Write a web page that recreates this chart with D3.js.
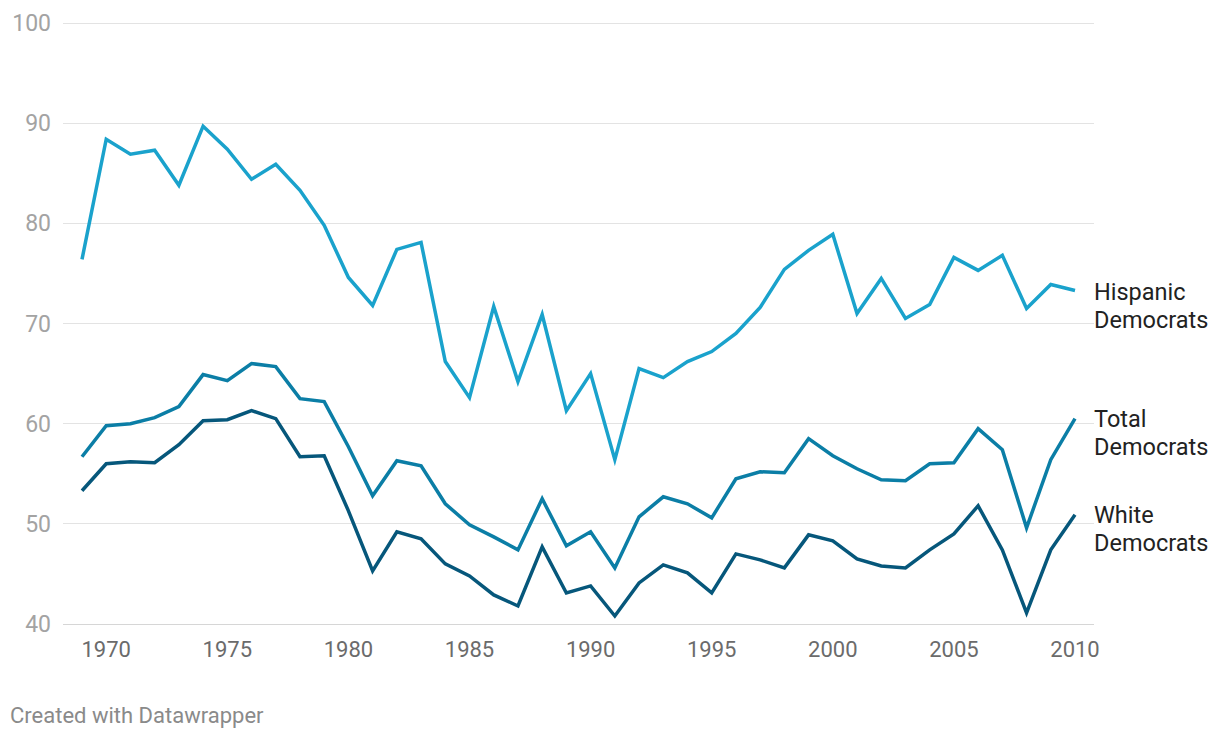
<!DOCTYPE html>
<html>
<head>
<meta charset="utf-8">
<script src="https://cdn.jsdelivr.net/npm/d3@7"></script>
<style>
  html, body { margin: 0; padding: 0; background: #fff; }
  svg { display: block; font-family: Roboto, "Noto Sans", sans-serif; }
</style>
</head>
<body>
<svg id="chart" width="1220" height="740"></svg>
<script>
const years = d3.range(1969, 2011);
const hispanic = [76.4, 88.4, 86.9, 87.3, 83.8, 89.7, 87.4, 84.4, 85.9, 83.3, 79.8,
  74.6, 71.8, 77.4, 78.1, 66.2, 62.6, 71.7, 64.2, 70.9, 61.3, 65.0, 56.4, 65.5, 64.6,
  66.2, 67.2, 69.0, 71.6, 75.4, 77.3, 78.9, 71.0, 74.5, 70.5, 71.9, 76.6, 75.3, 76.8,
  71.5, 73.9, 73.3];
const total = [56.7, 59.8, 60.0, 60.6, 61.7, 64.9, 64.3, 66.0, 65.7, 62.5, 62.2,
  57.7, 52.8, 56.3, 55.8, 52.0, 49.9, 48.7, 47.4, 52.5, 47.8, 49.2, 45.6, 50.7, 52.7,
  52.0, 50.6, 54.5, 55.2, 55.1, 58.5, 56.8, 55.5, 54.4, 54.3, 56.0, 56.1, 59.5, 57.4,
  49.6, 56.4, 60.5];
const white = [53.3, 56.0, 56.2, 56.1, 57.9, 60.3, 60.4, 61.3, 60.5, 56.7, 56.8,
  51.3, 45.3, 49.2, 48.5, 46.0, 44.8, 42.9, 41.8, 47.7, 43.1, 43.8, 40.8, 44.1, 45.9,
  45.1, 43.1, 47.0, 46.4, 45.6, 48.9, 48.3, 46.5, 45.8, 45.6, 47.4, 49.0, 51.8, 47.4,
  41.1, 47.4, 50.9];
const yTicks = [40, 50, 60, 70, 80, 90, 100];
const xTicks = [1970, 1975, 1980, 1985, 1990, 1995, 2000, 2005, 2010];
const seriesNames = [["Hispanic", "Democrats"], ["Total", "Democrats"], ["White", "Democrats"]];
const seriesValues = [hispanic, total, white];
const seriesColors = ["#1aa2cc", "#0b7ea6", "#06577b"];

const svg = d3.select("#chart");
const x = d3.scaleLinear().domain([1969, 2010]).range([82, 1075]);
const y = d3.scaleLinear().domain([40, 100]).range([624, 23]);

// grid
const grid = svg.append("g");
grid.selectAll("line").data(yTicks).join("line")
  .attr("x1", 63).attr("x2", 1094)
  .attr("y1", d => y(d)).attr("y2", d => y(d))
  .attr("stroke", d => d === 40 ? "#d6d6d6" : "#e3e3e3")
  .attr("stroke-width", 1)
  .attr("shape-rendering", "crispEdges");

grid.selectAll("text").data(yTicks).join("text")
  .attr("x", 51).attr("y", d => y(d))
  .attr("dy", "0.35em")
  .attr("text-anchor", "end")
  .attr("font-size", 23)
  .attr("fill", "#a3a3a3")
  .text(d => d);

// x axis labels
svg.append("g").selectAll("text").data(xTicks).join("text")
  .attr("x", d => x(d)).attr("y", 657)
  .attr("text-anchor", "middle")
  .attr("font-size", 22)
  .attr("fill", "#6b6b6b")
  .text(d => d);

// lines
const line = d3.line().x((d, i) => x(years[i])).y(d => y(d));
svg.append("g").selectAll("path").data(seriesValues).join("path")
  .attr("d", d => line(d))
  .attr("fill", "none")
  .attr("stroke", (d, i) => seriesColors[i])
  .attr("stroke-width", 3.5)
  .attr("stroke-linejoin", "miter")
  .attr("stroke-linecap", "butt");

// labels
const labelBase = [300, 427, 523];
seriesNames.forEach((lines, i) => {
  const t = svg.append("text")
    .attr("x", 1095).attr("y", labelBase[i])
    .attr("font-size", 23.5)
    .attr("fill", "#222");
  lines.forEach((s, j) => {
    t.append("tspan").attr("x", 1094).attr("y", labelBase[i] + j * 28).text(s);
  });
});

svg.append("text")
  .attr("x", 10).attr("y", 723)
  .attr("font-size", 22)
  .attr("fill", "#8a8a8a")
  .text("Created with Datawrapper");
</script>
</body>
</html>
